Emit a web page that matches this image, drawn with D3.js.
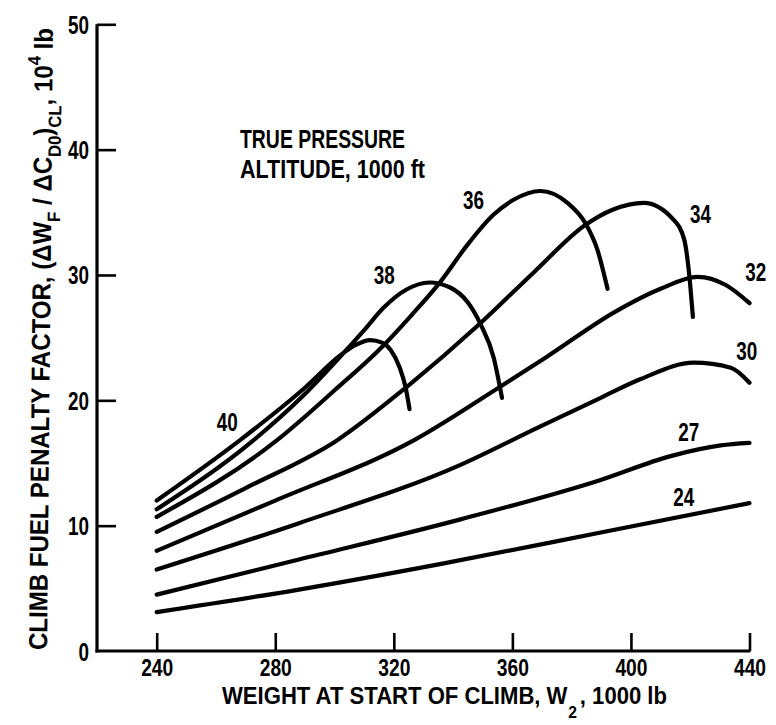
<!DOCTYPE html>
<html>
<head>
<meta charset="utf-8">
<script src="https://cdn.jsdelivr.net/npm/d3@7"></script>
<style>
  html, body { margin: 0; padding: 0; background: #ffffff; }
  svg { display: block; }
  text { font-family: "Liberation Sans Narrow", "Liberation Sans", "DejaVu Sans", sans-serif; font-weight: bold; fill: #000; }
</style>
</head>
<body>
<svg id="chart" width="776" height="725"></svg>
<script>
// ---- data (weight in 1000 lb, factor in 10^4 lb) ----
const altitudes = ["40", "38", "36", "34", "32", "30", "27", "24"];

const w40 = [240, 268, 290, 302, 307, 312, 316, 319, 322, 324, 325.3];
const f40 = [12.0, 16.8, 21.0, 23.6, 24.4, 24.8, 24.6, 24.0, 22.6, 21.0, 19.3];

const w38 = [240, 272.6, 290, 302, 310, 316.6, 324, 332, 339, 345, 349.2, 353.7, 356.5];
const f38 = [11.3, 16.8, 20.5, 23.5, 25.6, 27.4, 28.8, 29.4, 29.0, 27.8, 26.1, 23.4, 20.2];

const w36 = [240, 280.5, 300, 316.6, 326, 335.7, 344.5, 353.6, 360.4, 369.5, 378.6, 384.7, 388.7, 392.1];
const f36 = [10.7, 16.8, 20.8, 24.4, 26.8, 29.45, 32.3, 34.8, 36.0, 36.7, 35.75, 34.1, 32.0, 28.9];

const w34 = [240, 270, 300.8, 324.5, 349.2, 367.2, 384.7, 393.8, 404.3, 414.4, 418, 419.5, 420.9];
const f34 = [9.5, 13.0, 16.8, 21.1, 26.15, 30.2, 34.0, 35.2, 35.75, 34.4, 32.8, 30.4, 26.65];

const w32 = [240, 280, 326.7, 356, 371.8, 394.2, 410, 422.5, 432, 440];
const f32 = [8.0, 12.0, 16.8, 21.1, 23.5, 27.0, 28.9, 29.85, 29.2, 27.75];

const w30 = [240, 288, 342.5, 368.4, 389.8, 403.3, 421.2, 433.7, 440];
const f30 = [6.5, 10.2, 14.85, 17.8, 20.2, 21.7, 23.0, 22.6, 21.4];

const w27 = [240, 288, 342.5, 389.8, 413.4, 430.3, 440];
const f27 = [4.5, 7.3, 10.5, 13.65, 15.55, 16.4, 16.6];

const w24 = [240, 288, 336, 389.8, 440];
const f24 = [3.1, 4.9, 6.95, 9.45, 11.8];

// curve label anchors (data units)
const labelW = [263.8, 316.8, 346.9, 423.5, 442.1, 439.1, 419.5, 417.8];
const labelF = [18.25, 30.0, 36.0, 34.9, 30.2, 23.9, 17.5, 12.3];

const xTicks = [240, 280, 320, 360, 400, 440];
const yTicks = [0, 10, 20, 30, 40, 50];

const weights = [w40, w38, w36, w34, w32, w30, w27, w24];
const factors = [f40, f38, f36, f34, f32, f30, f27, f24];

// ---- layout ----
const svg = d3.select("#chart");
const axisX0 = 97;           // pixel x of the vertical axis
const x = d3.scaleLinear().domain([240, 440]).range([156.7, 749.5]);
const y = d3.scaleLinear().domain([0, 50]).range([651, 24.3]);

// axis lines
svg.append("line").attr("x1", axisX0).attr("x2", axisX0)
  .attr("y1", y(0) + 1.5).attr("y2", y(50))
  .attr("stroke", "#000").attr("stroke-width", 3.2);
svg.append("line").attr("x1", axisX0 - 1.5).attr("x2", x(440) + 1)
  .attr("y1", y(0)).attr("y2", y(0))
  .attr("stroke", "#000").attr("stroke-width", 3.2);

// y axis
const gy = svg.append("g").attr("transform", `translate(${axisX0},0)`)
  .call(d3.axisLeft(y).tickValues(yTicks).tickSize(-19).tickPadding(8).tickFormat(d3.format("d")));
gy.select(".domain").remove();
gy.selectAll(".tick line").attr("stroke", "#000").attr("stroke-width", 2.6);
gy.selectAll(".tick text").attr("font-size", 25).attr("font-family", null)
  .attr("dy", "0.36em")
  .attr("textLength", d => String(d).length * 10.5).attr("lengthAdjust", "spacingAndGlyphs");
gy.selectAll(".tick").filter(d => d === 0).select("line").remove();

// x axis
const gx = svg.append("g").attr("transform", `translate(0,${y(0)})`)
  .call(d3.axisBottom(x).tickValues(xTicks).tickSize(-18).tickPadding(8).tickFormat(d3.format("d")));
gx.select(".domain").remove();
gx.selectAll(".tick line").attr("stroke", "#000").attr("stroke-width", 2.6);
gx.selectAll(".tick text").attr("font-size", 23).attr("font-family", null)
  .attr("dy", "0.72em")
  .attr("textLength", d => String(d).length * 10.7).attr("lengthAdjust", "spacingAndGlyphs");

// curves
const line = d3.line().x(d => x(d[0])).y(d => y(d[1])).curve(d3.curveMonotoneX);
altitudes.forEach((alt, i) => {
  const pts = weights[i].map((w, j) => [w, factors[i][j]]);
  svg.append("path").datum(pts)
    .attr("d", line)
    .attr("fill", "none").attr("stroke", "#000")
    .attr("stroke-width", 4.2).attr("stroke-linecap", "round").attr("stroke-linejoin", "round");
  svg.append("text")
    .attr("x", x(labelW[i])).attr("y", y(labelF[i]))
    .attr("text-anchor", "middle").attr("dy", "0.36em")
    .attr("font-size", 25)
    .attr("textLength", 21).attr("lengthAdjust", "spacingAndGlyphs")
    .text(alt);
});

// annotation
svg.append("text").attr("x", 240).attr("y", 148).attr("font-size", 26)
  .attr("textLength", 165).attr("lengthAdjust", "spacingAndGlyphs").text("TRUE PRESSURE");
svg.append("text").attr("x", 240).attr("y", 178).attr("font-size", 26)
  .attr("textLength", 185).attr("lengthAdjust", "spacingAndGlyphs").text("ALTITUDE, 1000 ft");

// x title
const xt = svg.append("text").attr("x", 222).attr("y", 704).attr("font-size", 24)
  .attr("textLength", 445).attr("lengthAdjust", "spacingAndGlyphs");
xt.append("tspan").text("WEIGHT AT START OF CLIMB, W");
xt.append("tspan").attr("dx", 1).attr("dy", 14).attr("font-size", 17).text("2");
xt.append("tspan").attr("dx", 3).attr("dy", -14).text(", 1000 lb");

// y title
const yt = svg.append("text").attr("transform", "translate(47,650) rotate(-89.45)")
  .attr("x", 0).attr("y", 0).attr("font-size", 26)
  .attr("textLength", 622).attr("lengthAdjust", "spacingAndGlyphs");
yt.append("tspan").text("CLIMB FUEL PENALTY FACTOR, (ΔW");
yt.append("tspan").attr("dy", 9).attr("font-size", 18).text("F");
yt.append("tspan").attr("dy", -9).text(" / ΔC");
yt.append("tspan").attr("dy", 9).attr("font-size", 18).text("D0");
yt.append("tspan").attr("dy", -9).text(")");
yt.append("tspan").attr("dy", 9).attr("font-size", 18).text("CL");
yt.append("tspan").attr("dy", -9).text(", 10");
yt.append("tspan").attr("dy", -12).attr("font-size", 18).text("4");
yt.append("tspan").attr("dy", 12).text(" lb");
</script>
</body>
</html>
